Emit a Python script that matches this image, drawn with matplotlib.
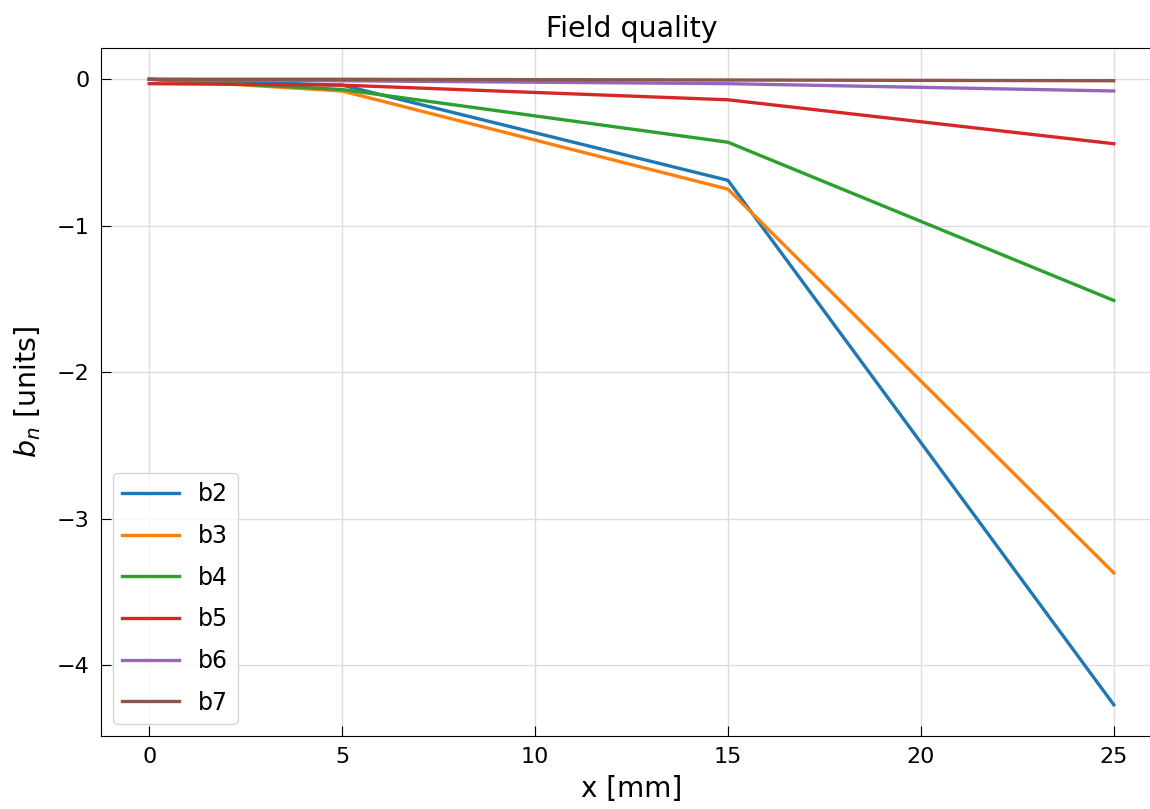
import matplotlib
matplotlib.use("Agg")
import matplotlib.pyplot as plt

# positions along x [mm]
x_mm = [0, 5, 15, 25]

# normal multipole components [units]
b2 = [0.0, -0.04, -0.69, -4.27]
b3 = [0.0, -0.08, -0.75, -3.37]
b4 = [0.0, -0.07, -0.43, -1.51]
b5 = [-0.03, -0.04, -0.14, -0.44]
b6 = [0.0, -0.01, -0.03, -0.08]
b7 = [0.0, 0.0, -0.005, -0.01]

series = {"b2": b2, "b3": b3, "b4": b4, "b5": b5, "b6": b6, "b7": b7}

fig = plt.figure(figsize=(11.5, 8.09), dpi=100)
# axes runs a little past the right edge, as in the reference
ax = fig.add_axes([101 / 1150, 1 - 736 / 809, 1061 / 1150, (736 - 48) / 809])

for name, vals in series.items():
    ax.plot(x_mm, vals, label=name, linewidth=2.4)

ax.set_title("Field quality", fontsize=20.5, pad=8)
ax.set_xlabel("x [mm]", fontsize=20, labelpad=6)
ax.set_ylabel("$b_n$ [units]", fontsize=20.5, labelpad=10)
ax.tick_params(direction="in", labelsize=16, length=7, pad=8)
ax.grid(True, color="#dddddd", linewidth=1)
ax.legend(loc="lower left", fontsize=17, handlelength=2.4, labelspacing=0.75,
          handletextpad=0.8)

fig.savefig("out.png", dpi=100)
